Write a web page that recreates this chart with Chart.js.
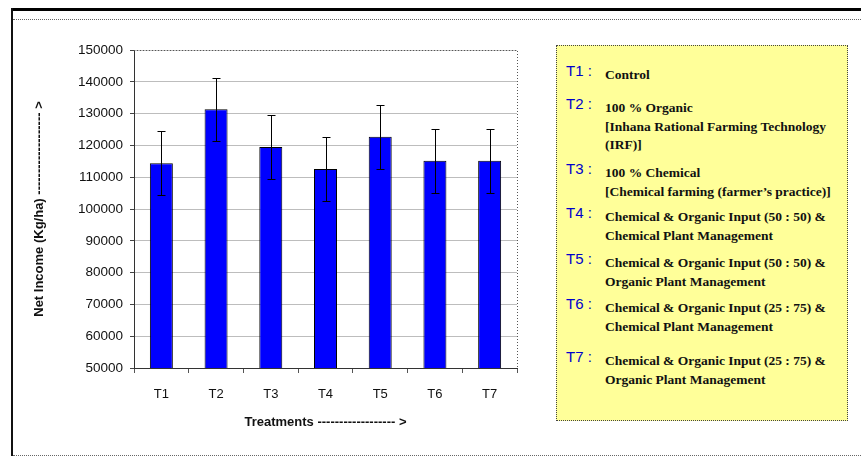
<!DOCTYPE html>
<html>
<head>
<meta charset="utf-8">
<script src="https://cdn.jsdelivr.net/npm/chart.js@4.4.0/dist/chart.umd.min.js"></script>
<style>
  html, body { margin: 0; padding: 0; background: #fff; }
  #wrap { position: relative; width: 861px; height: 456px; overflow: hidden; }
  #chart { position: absolute; left: 0; top: 0; }
  .frameTop { position: absolute; left: 11px; top: 8px; width: 850px; height: 0; border-top: 3px solid #000; }
  .frameLeft { position: absolute; left: 11px; top: 8px; width: 0; height: 448px; border-left: 2px solid #111; }
  .frameInner { position: absolute; left: 13px; top: 19px; width: 860px; height: 435px; border-top: 1px dotted #666; border-bottom: 1px dotted #666; }
  #legend { position: absolute; left: 556px; top: 45px; width: 290px; height: 374px;
    background: #ffff99; border: 1px dotted #444; box-sizing: content-box; }
  .row { position: absolute; left: 0; }
  .key { position: absolute; left: 9px; top: -4px; color: #0000cc; font: 15px "Liberation Sans", Arial, sans-serif; white-space: nowrap; }
  .txt { position: absolute; left: 48px; top: 0; color: #111; font: bold 13.5px/18.5px "Liberation Serif", "Times New Roman", serif; white-space: nowrap; }
</style>
</head>
<body>
<div id="wrap">
  <canvas id="chart" width="861" height="456"></canvas>
  <div class="frameTop"></div>
  <div class="frameLeft"></div>
  <div class="frameInner"></div>
  <div id="legend"></div>
</div>
<script>
// data
const treatments = ['T1', 'T2', 'T3', 'T4', 'T5', 'T6', 'T7'];
const netIncome = [114400, 131400, 119500, 112600, 122700, 115200, 115200];
const errorMargin = [10100, 9900, 10200, 10000, 10000, 10100, 10100];
const yTickValues = [50000, 60000, 70000, 80000, 90000, 100000, 110000, 120000, 130000, 140000, 150000];

const legendKeys = ['T1 :', 'T2 :', 'T3 :', 'T4 :', 'T5 :', 'T6 :', 'T7 :'];
const legendText = [
  ['Control'],
  ['100 % Organic', '[Inhana Rational Farming Technology', '(IRF)]'],
  ['100 % Chemical', '[Chemical farming (farmer\u2019s practice)]'],
  ['Chemical & Organic Input (50 : 50) &', 'Chemical Plant Management'],
  ['Chemical & Organic Input (50 : 50) &', 'Organic Plant Management'],
  ['Chemical & Organic Input (25 : 75) &', 'Chemical Plant Management'],
  ['Chemical & Organic Input (25 : 75) &', 'Organic Plant Management']
];
const legendRowTop = [20, 53, 118, 162, 208, 253, 306];

// legend box (text block on the right)
const legend = document.getElementById('legend');
legendKeys.forEach((k, i) => {
  const row = document.createElement('div');
  row.className = 'row';
  row.style.top = legendRowTop[i] + 'px';
  const key = document.createElement('span');
  key.className = 'key';
  key.textContent = k;
  const txt = document.createElement('div');
  txt.className = 'txt';
  txt.innerHTML = legendText[i].map(s => s.replace(/&/g, '&amp;')).join('<br>');
  row.appendChild(key);
  row.appendChild(txt);
  legend.appendChild(row);
});

const FONT = '"Liberation Sans", Arial, sans-serif';

// error bars
const errorBars = {
  id: 'errorBars',
  afterDatasetsDraw(chart) {
    const ctx = chart.ctx;
    const y = chart.scales.y;
    const meta = chart.getDatasetMeta(0);
    ctx.save();
    ctx.strokeStyle = '#000';
    ctx.lineWidth = 1;
    meta.data.forEach((bar, i) => {
      const x = Math.round(bar.x) + 0.5;
      const top = Math.round(y.getPixelForValue(netIncome[i] + errorMargin[i])) + 0.5;
      const bot = Math.round(y.getPixelForValue(netIncome[i] - errorMargin[i])) + 0.5;
      ctx.beginPath();
      ctx.moveTo(x, top); ctx.lineTo(x, bot);
      ctx.moveTo(x - 4, top); ctx.lineTo(x + 4, top);
      ctx.moveTo(x - 4, bot); ctx.lineTo(x + 4, bot);
      ctx.stroke();
    });
    ctx.restore();
  }
};

// dotted top / right edge of the plot area
const plotEdge = {
  id: 'plotEdge',
  afterDraw(chart) {
    const a = chart.chartArea;
    const ctx = chart.ctx;
    ctx.save();
    ctx.strokeStyle = '#555';
    ctx.lineWidth = 1;
    ctx.setLineDash([1, 2]);
    ctx.beginPath();
    ctx.moveTo(a.left, Math.round(a.top) + 0.5);
    ctx.lineTo(Math.round(a.right) + 0.5, Math.round(a.top) + 0.5);
    ctx.lineTo(Math.round(a.right) + 0.5, a.bottom);
    ctx.stroke();
    ctx.restore();
  }
};

new Chart(document.getElementById('chart'), {
  type: 'bar',
  data: {
    labels: treatments,
    datasets: [{
      data: netIncome,
      backgroundColor: '#0000ff',
      borderColor: '#000',
      borderWidth: 1,
      barPercentage: 0.42,
      categoryPercentage: 1
    }]
  },
  options: {
    responsive: false,
    animation: false,
    events: [],
    layout: { padding: { left: 14, top: 50, right: 344, bottom: 20 } },
    plugins: {
      legend: { display: false },
      tooltip: { enabled: false }
    },
    scales: {
      x: {
        grid: { drawOnChartArea: false, tickLength: 5, color: '#555' },
        border: { color: '#333', width: 1 },
        ticks: { color: '#111', padding: 14, font: { family: FONT, size: 13 } },
        title: {
          display: true,
          text: 'Treatments ------------------ >',
          color: '#111',
          font: { family: FONT, size: 13, weight: 'bold' },
          padding: { top: 0, bottom: 6 }
        },
        afterFit(scale) { scale.height = 68; }
      },
      y: {
        min: 50000,
        max: 150000,
        afterBuildTicks(scale) { scale.ticks = yTickValues.map(v => ({ value: v })); },
        grid: { color: '#bdbdbd', lineWidth: 1, tickLength: 4, tickColor: '#444' },
        border: { color: '#333', width: 1 },
        ticks: {
          color: '#111', padding: 7, font: { family: FONT, size: 13.5 },
          callback: v => String(v)
        },
        title: {
          display: true,
          text: 'Net Income (Kg/ha) ------------------- >',
          color: '#111',
          font: { family: FONT, size: 13, weight: 'bold' },
          padding: { top: 18, bottom: 0 }
        },
        afterFit(scale) { scale.width = 120; }
      }
    }
  },
  plugins: [errorBars, plotEdge]
});
</script>
</body>
</html>
